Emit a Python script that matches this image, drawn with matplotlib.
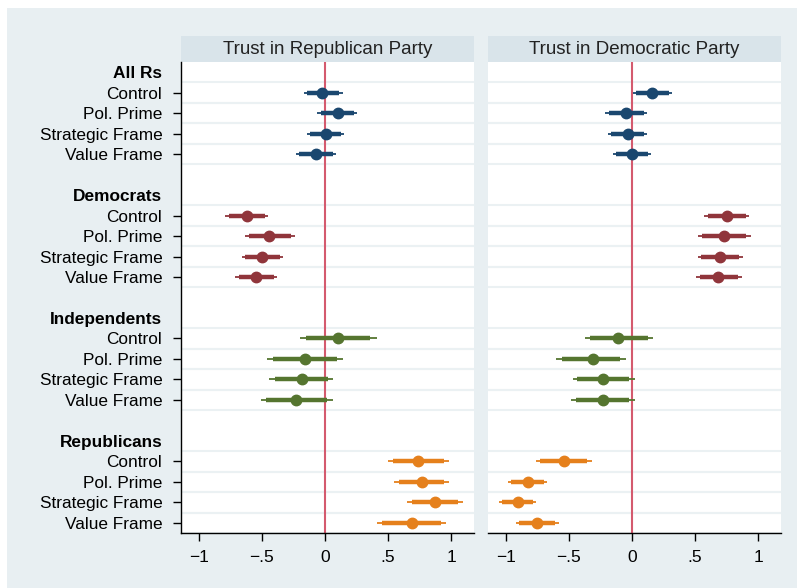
import matplotlib
matplotlib.use("Agg")
import matplotlib.pyplot as plt
from matplotlib.patches import Rectangle

plt.rcParams['font.family'] = ['Liberation Sans', 'DejaVu Sans']

groups = ["All Rs", "Democrats", "Independents", "Republicans"]
conditions = ["Control", "Pol. Prime", "Strategic Frame", "Value Frame"]
colors = ["#1a476f", "#90353b", "#55752f", "#e5801c"]
panels = ["Trust in Republican Party", "Trust in Democratic Party"]

# estimates and 95% bounds, per group (rows = conditions)
rep_est = [[-0.02, 0.10, 0.01, -0.07],
           [-0.62, -0.44, -0.50, -0.55],
           [0.10, -0.16, -0.18, -0.23],
           [0.74, 0.77, 0.87, 0.69]]
rep_lo = [[-0.17, -0.06, -0.14, -0.23],
          [-0.79, -0.63, -0.66, -0.71],
          [-0.20, -0.46, -0.44, -0.51],
          [0.50, 0.55, 0.65, 0.41]]
rep_hi = [[0.14, 0.25, 0.15, 0.09],
          [-0.45, -0.24, -0.33, -0.38],
          [0.41, 0.14, 0.06, 0.06],
          [0.98, 0.98, 1.09, 0.96]]

dem_est = [[0.16, -0.05, -0.03, 0.00],
           [0.75, 0.73, 0.70, 0.68],
           [-0.11, -0.31, -0.23, -0.23],
           [-0.54, -0.82, -0.90, -0.75]]
dem_lo = [[0.01, -0.21, -0.19, -0.15],
          [0.57, 0.52, 0.52, 0.51],
          [-0.37, -0.60, -0.47, -0.48],
          [-0.76, -0.98, -1.05, -0.92]]
dem_hi = [[0.32, 0.12, 0.12, 0.15],
          [0.93, 0.94, 0.88, 0.87],
          [0.17, -0.05, 0.02, 0.02],
          [-0.32, -0.67, -0.76, -0.58]]

xticks = [-1, -0.5, 0, 0.5, 1]
xticklabels = ["\u22121", "\u2212.5", "0", ".5", "1"]

bg = "#e8eff2"
strip = "#d9e4ea"
grid = "#ebf1f3"

W, H = 797, 588
fig = plt.figure(figsize=(W / 100, H / 100), dpi=100, facecolor="white")
fig.patches.append(Rectangle((7 / W, 0), 1, 1 - 8 / H, transform=fig.transFigure,
                             facecolor=bg, edgecolor="none", zorder=-10))

bottom = 1 - 533 / H
height = 471 / H
lefts = [181 / W, 488 / W]
width = 293 / W

# row layout: header, 4 conditions, blank
ypos = []
labels = []
for gi, g in enumerate(groups):
    ypos.append(gi * 6)
    labels.append(g)
    for ci, c in enumerate(conditions):
        ypos.append(gi * 6 + ci + 1)
        labels.append(c)

data = [(rep_est, rep_lo, rep_hi), (dem_est, dem_lo, dem_hi)]

for pi in range(2):
    ax = fig.add_axes([lefts[pi], bottom, width, height])
    ax.set_facecolor("white")
    est, lo, hi = data[pi]
    ax.set_xlim(-1.14, 1.18)
    ax.set_ylim(22.5, -0.5)

    for gi in range(4):
        for ci in range(4):
            y = gi * 6 + ci + 1
            ax.axhline(y - 0.5, color=grid, lw=1.5, zorder=0)
            ax.axhline(y + 0.5, color=grid, lw=1.5, zorder=0)
            e, l, h = est[gi][ci], lo[gi][ci], hi[gi][ci]
            c = colors[gi]
            ax.plot([l, h], [y, y], color=c, lw=1.3, solid_capstyle="butt", zorder=3)
            ax.plot([e + 0.84 * (l - e), e + 0.84 * (h - e)], [y, y], color=c, lw=3.2,
                    solid_capstyle="butt", zorder=3)
            ax.plot(e, y, "o", color=c, ms=7.5, zorder=4)

    ax.axvline(0, color="#d45a6e", lw=1.5, zorder=2)

    ax.set_xticks(xticks)
    ax.set_xticklabels(xticklabels, fontsize=12.5)
    ax.tick_params(axis="x", length=6, width=1, pad=6, colors="black")

    for s in ["top", "right"]:
        ax.spines[s].set_visible(False)
    ax.spines["bottom"].set_linewidth(1)

    if pi == 0:
        ax.set_yticks(ypos)
        ax.set_yticklabels(labels, fontsize=12.4)
        ax.tick_params(axis="y", length=6, width=1, pad=7.5)
        for t, lab in zip(ax.yaxis.get_major_ticks(), labels):
            if lab in groups:
                t.tick1line.set_visible(False)
                t.label1.set_fontweight("bold")
        ax.spines["left"].set_linewidth(1)
    else:
        ax.set_yticks([])
        ax.spines["left"].set_visible(False)

    ax.add_patch(Rectangle((0, 1), 1, 26 / 471, transform=ax.transAxes,
                           facecolor=strip, edgecolor="none", clip_on=False))
    ax.text(0.5, 1 + 13 / 471, panels[pi], transform=ax.transAxes,
            ha="center", va="center", fontsize=13.5, color="#222222")

fig.savefig("out.png", dpi=100, facecolor="white")
